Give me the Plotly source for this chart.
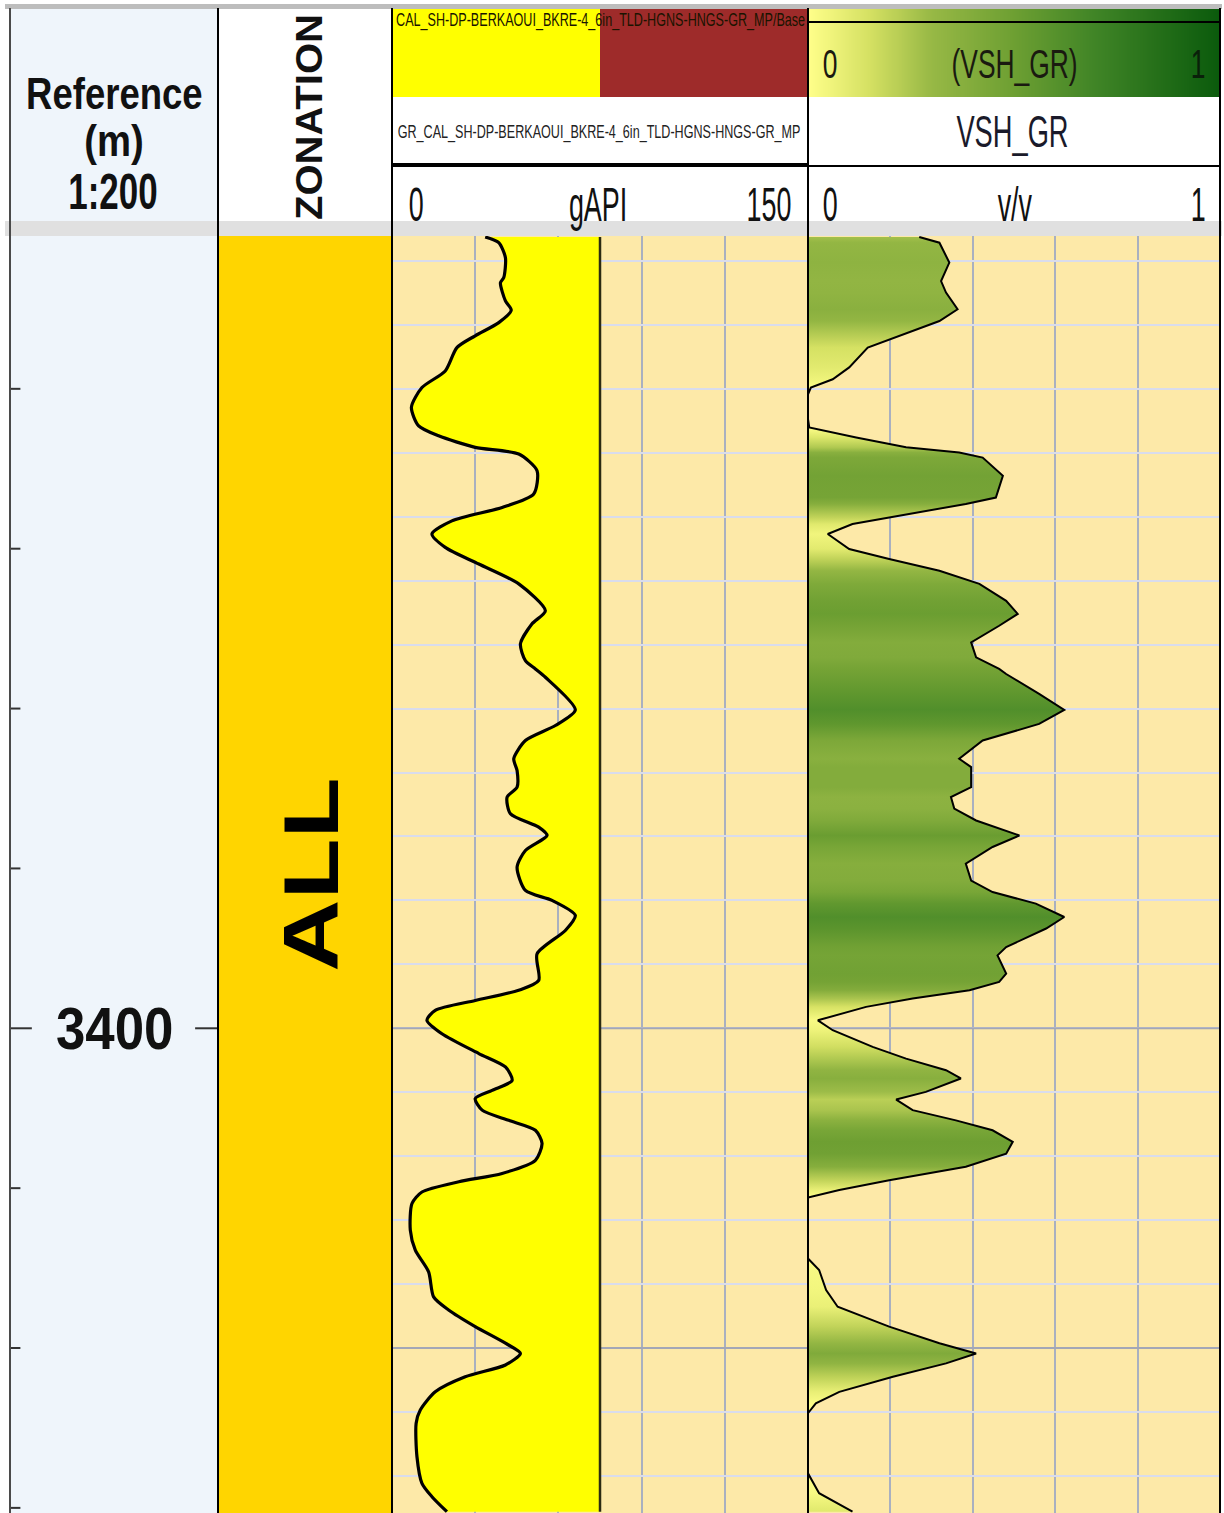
import numpy as np
import plotly.graph_objects as go
from plotly.colors import sample_colorscale

# ---------------------------------------------------------------- data
DEPTH_TOP, DEPTH_BASE = 3375.22, 3415.16          # visible interval (m)
DEPTH_TICKS = [3380, 3385, 3390, 3395, 3400, 3405, 3410, 3415]
DEPTH_LABELS = [3400]
GRID_STEP = 2.0
MAJOR_DEPTH_LINES = [3400, 3410]

ZONE_NAMES = ["ALL"]
ZONE_TOPS = [3370.0]
ZONE_BASES = [3420.0]

GR_MIN, GR_MAX = 0, 150
GR_BASELINE = 75
DEPTH_GR = [3375.25, 3375.43, 3375.90, 3376.52, 3376.68, 3377.25, 3377.54, 3377.93,
            3378.34, 3378.71, 3379.44, 3379.96, 3380.58, 3381.16, 3381.47, 3381.83,
            3382.04, 3382.56, 3383.29, 3383.71, 3384.13, 3384.54, 3384.96, 3385.48,
            3386.10, 3386.94, 3387.35, 3387.98, 3388.50, 3388.76, 3389.02, 3390.04,
            3390.53, 3391.00, 3391.57, 3391.94, 3392.46, 3392.77, 3393.29, 3393.71,
            3393.97, 3394.44, 3394.96, 3395.69, 3396.00, 3396.47, 3396.94, 3397.67,
            3398.50, 3398.81, 3399.13, 3399.44, 3399.75, 3400.17, 3400.79, 3401.21,
            3401.63, 3401.94, 3402.20, 3402.56, 3402.88, 3403.19, 3403.60, 3404.13,
            3404.54, 3404.80, 3405.12, 3405.48, 3406.31, 3406.94, 3407.62, 3408.40,
            3408.81, 3409.33, 3409.85, 3410.17, 3410.53, 3410.90, 3411.37, 3411.94,
            3412.35, 3413.40, 3414.23, 3414.65, 3415.12]
GR = [33.6, 38.5, 40.9, 40.3, 39.1, 40.9, 43.0, 38.5,
      30.0, 23.4, 19.2, 10.8, 7.0, 9.6, 16.8, 30.0,
      45.7, 52.3, 51.1, 39.7, 21.6, 14.4, 19.2, 31.3,
      45.7, 55.3, 50.5, 46.3, 48.1, 51.7, 55.3, 66.1,
      58.9, 48.1, 43.9, 45.1, 45.1, 41.5, 42.7, 52.9,
      55.9, 48.1, 45.1, 48.1, 57.7, 66.1, 62.5, 52.3,
      52.9, 45.7, 30.0, 15.6, 12.6, 18.0, 31.3, 40.9,
      43.3, 36.1, 30.0, 32.5, 42.1, 51.7, 54.1, 51.7,
      39.7, 24.1, 10.8, 7.2, 6.6, 8.4, 13.2, 15.0,
      20.4, 30.0, 40.9, 46.3, 40.9, 26.4, 15.6, 10.2,
      8.7, 9.0, 10.8, 14.4, 19.8]

VSH_MIN, VSH_MAX = 0, 1
DEPTH_VSH = [3375.25, 3375.43, 3376.05, 3376.63, 3376.99, 3377.51, 3377.88, 3378.45,
             3378.71, 3379.33, 3379.70, 3379.96, 3380.17, 3380.95, 3381.21, 3381.52,
             3381.83, 3381.99, 3382.15, 3382.72, 3383.40, 3383.60, 3384.02, 3384.23,
             3384.54, 3385.01, 3385.32, 3385.69, 3386.10, 3386.63, 3387.04, 3387.41,
             3387.93, 3388.40, 3388.76, 3388.92, 3389.54, 3390.04, 3390.48, 3391.00,
             3391.57, 3391.83, 3392.46, 3392.77, 3393.13, 3393.50, 3393.97, 3394.33,
             3394.85, 3395.38, 3395.74, 3396.10, 3396.52, 3396.88, 3397.46, 3397.72,
             3398.29, 3398.55, 3398.81, 3399.07, 3399.33, 3399.75, 3400.06, 3400.58,
             3400.95, 3401.31, 3401.57, 3401.99, 3402.23, 3402.56, 3402.88, 3403.19,
             3403.55, 3403.92, 3404.33, 3404.75, 3405.06, 3405.29, 3407.20, 3407.56,
             3408.19, 3408.71, 3409.33, 3409.85, 3410.17, 3410.48, 3410.90, 3411.37,
             3411.73, 3412.04, 3413.92, 3414.54, 3415.12]
VSH = [0.270, 0.319, 0.343, 0.323, 0.335, 0.363, 0.319, 0.197,
       0.145, 0.100, 0.060, 0.007, 0.0, 0.0, 0.003, 0.117,
       0.238, 0.367, 0.424, 0.473, 0.456, 0.383, 0.197, 0.108,
       0.048, 0.100, 0.197, 0.319, 0.416, 0.481, 0.509, 0.464,
       0.396, 0.408, 0.464, 0.481, 0.561, 0.622, 0.561, 0.424,
       0.367, 0.396, 0.396, 0.347, 0.355, 0.408, 0.513, 0.448,
       0.383, 0.396, 0.448, 0.553, 0.622, 0.578, 0.481, 0.460,
       0.481, 0.464, 0.392, 0.254, 0.141, 0.024, 0.060, 0.157,
       0.238, 0.335, 0.371, 0.286, 0.214, 0.254, 0.359, 0.448,
       0.497, 0.481, 0.383, 0.197, 0.076, 0.0, 0.0, 0.027,
       0.044, 0.072, 0.197, 0.319, 0.408, 0.335, 0.206, 0.076,
       0.019, 0.0, 0.0, 0.027, 0.108]

GR_CURVE_NAME = "GR_CAL_SH-DP-BERKAOUI_BKRE-4_6in_TLD-HGNS-HNGS-GR_MP"
GR_FILL_NAME = "CAL_SH-DP-BERKAOUI_BKRE-4_6in_TLD-HGNS-HNGS-GR_MP/Base"
GR_UNIT = "gAPI"
VSH_NAME = "VSH_GR"
VSH_UNIT = "v/v"

# ---------------------------------------------------------------- styling
W, H = 1224, 1513
FONT = "Liberation Sans, Arial, sans-serif"
VSH_SCALE = [[0.0, "#ffff8a"], [0.15, "#d4e062"], [0.3, "#97b845"],
             [0.5, "#6d9f32"], [0.7, "#3f8426"], [1.0, "#0a5a0c"]]
TRACK_BG = "#fde9a8"
DEPTH_BG = "#eff5fb"
ZONE_COLOR = "#ffd500"
V_GRID = "#a9b0c0"
H_GRID = "#d9dcec"

# track edges in pixels
XD0, XD1 = 10, 218
XZ0, XZ1 = 218, 392
XG0, XG1 = 392, 808
XV0, XV1 = 808, 1220
Y_HEAD = 8
Y_BODY = 236


def px(x):
    return x / W


def py(y):
    return 1 - y / H


# ---------------------------------------------------------------- traces
fig = go.Figure()

# zonation
for name, top, base in zip(ZONE_NAMES, ZONE_TOPS, ZONE_BASES):
    fig.add_trace(go.Bar(x=[1], y=[(top + base) / 2], width=[base - top], base=0,
                         orientation="h", marker=dict(color=ZONE_COLOR, line=dict(width=0)),
                         xaxis="x2", yaxis="y2", hoverinfo="skip"))

# gamma ray with sand fill towards the baseline
baseline = [GR_BASELINE] * len(DEPTH_GR)
fig.add_trace(go.Scatter(x=baseline, y=DEPTH_GR, mode="lines", line=dict(width=0),
                         xaxis="x3", yaxis="y3", hoverinfo="skip"))
fig.add_trace(go.Scatter(x=GR, y=DEPTH_GR, mode="lines", fill="tonextx", fillcolor="#ffff00",
                         line=dict(color="black", width=3.2, shape="spline", smoothing=0.7),
                         xaxis="x3", yaxis="y3"))
fig.add_trace(go.Scatter(x=baseline, y=DEPTH_GR, mode="lines",
                         line=dict(color="#2b2b12", width=2.5),
                         xaxis="x3", yaxis="y3", hoverinfo="skip"))

# shale volume, filled with a colour that follows the value at each depth
d0, d1 = DEPTH_VSH[0], DEPTH_VSH[-1]
stop_colors = sample_colorscale(VSH_SCALE, [min(max(v, 0), 1) for v in VSH])
grad = [[round((d - d0) / (d1 - d0), 5), c] for d, c in zip(DEPTH_VSH, stop_colors)]
grad[0][0], grad[-1][0] = 0.0, 1.0
fig.add_trace(go.Scatter(x=VSH, y=DEPTH_VSH, mode="lines", fill="tozerox",
                         fillgradient=dict(type="vertical", colorscale=grad, start=d0, stop=d1),
                         line=dict(color="black", width=2),
                         xaxis="x4", yaxis="y4"))

# colour ramp in the VSH header
ramp = np.linspace(VSH_MIN, VSH_MAX, 201)
fig.add_trace(go.Heatmap(z=[ramp], x=ramp, y=[0], colorscale=VSH_SCALE, zmin=VSH_MIN,
                         zmax=VSH_MAX, zsmooth="best", showscale=False,
                         xaxis="x5", yaxis="y5", hoverinfo="skip"))

# ---------------------------------------------------------------- axes
body_domain = [0, py(Y_BODY)]
depth_range = [DEPTH_BASE, DEPTH_TOP]
hidden = dict(showticklabels=False, ticks="", zeroline=False, showline=False)

layout_axes = dict(
    xaxis=dict(domain=[px(XD0), px(XD1)], range=[0, 1], showgrid=False, anchor="y", **hidden),
    yaxis=dict(domain=body_domain, range=depth_range, showgrid=False, anchor="x", **hidden),
    xaxis2=dict(domain=[px(XZ0), px(XZ1)], range=[0, 1], showgrid=False, anchor="y2", **hidden),
    yaxis2=dict(domain=body_domain, range=depth_range, showgrid=False, anchor="x2", **hidden),
    xaxis3=dict(domain=[px(XG0), px(XG1)], range=[GR_MIN, GR_MAX], dtick=30, showgrid=True,
                gridcolor=V_GRID, gridwidth=1.5, anchor="y3", **hidden),
    yaxis3=dict(domain=body_domain, range=depth_range, dtick=GRID_STEP, tick0=3400,
                showgrid=True, gridcolor=H_GRID, gridwidth=2, anchor="x3", **hidden),
    xaxis4=dict(domain=[px(XV0), px(XV1)], range=[VSH_MIN, VSH_MAX], dtick=0.2, showgrid=True,
                gridcolor=V_GRID, gridwidth=1.5, anchor="y4", **hidden),
    yaxis4=dict(domain=body_domain, range=depth_range, dtick=GRID_STEP, tick0=3400,
                showgrid=True, gridcolor=H_GRID, gridwidth=2, anchor="x4", **hidden),
    xaxis5=dict(domain=[px(XV0), px(XV1)], range=[VSH_MIN, VSH_MAX], showgrid=False,
                anchor="y5", **hidden),
    yaxis5=dict(domain=[py(97), py(Y_HEAD)], range=[-0.5, 0.5], showgrid=False,
                anchor="x5", **hidden),
)

# ---------------------------------------------------------------- shapes
shapes = []


def rect(x0, y0, x1, y1, color, layer="below"):
    shapes.append(dict(type="rect", xref="paper", yref="paper", x0=px(x0), x1=px(x1),
                       y0=py(y1), y1=py(y0), fillcolor=color, line=dict(width=0), layer=layer))


def hline(x0, x1, y, color="black", width=2):
    shapes.append(dict(type="line", xref="paper", yref="paper", x0=px(x0), x1=px(x1),
                       y0=py(y), y1=py(y), line=dict(color=color, width=width), layer="above"))


def vline(x, y0, y1, color="black", width=2):
    shapes.append(dict(type="line", xref="paper", yref="paper", x0=px(x), x1=px(x),
                       y0=py(y1), y1=py(y0), line=dict(color=color, width=width), layer="above"))


rect(XD0, Y_HEAD, XD1, H, DEPTH_BG)
rect(XG0, Y_BODY, XV1, H, TRACK_BG)
rect(XG0, Y_HEAD, 600, 97, "#ffff00")
rect(600, Y_HEAD, XG1, 97, "#9e2b2a")

# darker reference lines under the curves
for d in MAJOR_DEPTH_LINES:
    shapes.append(dict(type="line", xref="x3", yref="y3", x0=GR_MIN, x1=GR_MAX, y0=d, y1=d,
                       line=dict(color="#a3a7b6", width=2), layer="between"))
    shapes.append(dict(type="line", xref="x4", yref="y4", x0=VSH_MIN, x1=VSH_MAX, y0=d, y1=d,
                       line=dict(color="#a3a7b6", width=2), layer="between"))

# depth ticks
for d in DEPTH_TICKS:
    long_tick = d in DEPTH_LABELS
    x_len = 0.105 if long_tick else 0.05
    shapes.append(dict(type="line", xref="x", yref="y", x0=0, x1=x_len, y0=d, y1=d,
                       line=dict(color="#333333", width=2), layer="above"))
    if long_tick:
        shapes.append(dict(type="line", xref="x", yref="y", x0=0.89, x1=1, y0=d, y1=d,
                           line=dict(color="#333333", width=2), layer="above"))

# header frame
rect(5, 4, 1222, 9, "#bdbdbd", layer="above")
rect(5, 221, 1222, Y_BODY, "#e0e0e0", layer="above")
hline(XG0, XG1, 165, width=4)
hline(XV0, XV1, 22, width=2)
hline(XV0, XV1, 166, width=2)
vline(XD0, Y_HEAD, H, color="#4a4a4a")
for xb in (XD1, XZ1, XG1, XV1):
    vline(xb, Y_HEAD, H)
vline(XG0, Y_HEAD, H)

# ---------------------------------------------------------------- text
annotations = []
squeeze = []


def label(text, x, y, size, sx=1.0, sy=1.0, bold=False, angle=0, color="#111111",
          xref="paper", yref="paper"):
    if xref == "paper":
        x = px(x)
    if yref == "paper":
        y = py(y)
    annotations.append(dict(text=text, x=x, y=y, xref=xref, yref=yref, showarrow=False,
                            xanchor="center", yanchor="middle", textangle=angle,
                            font=dict(family=FONT, size=size, color=color,
                                      weight=700 if bold else 400)))
    squeeze.append((sx, sy))


label("Reference", 114, 94, 44, sx=0.83, bold=True)
label("(m)", 114, 141, 45, sx=0.85, bold=True)
label("1:200", 113, 192, 50, sx=0.7, bold=True)
label("ZONATION", 309, 117, 40, sy=0.93, bold=True, angle=-90)

label(GR_FILL_NAME, 600, 20, 18, sx=0.7, color="#1a1400")
label(GR_CURVE_NAME, 599, 132, 18, sx=0.7, color="#222222")
label(str(GR_MIN), 416, 205, 48, sx=0.56)
label(GR_UNIT, 598, 205, 48, sx=0.56)
label(str(GR_MAX), 769, 205, 48, sx=0.56)

label(str(VSH_MIN), 830, 64, 40, sx=0.66, color="#1a1a10")
label(f"({VSH_NAME})", 1014, 64, 40, sx=0.66, color="#1a1a10")
label(str(VSH_MAX), 1198, 64, 40, sx=0.66, color="#0a200a")
label(VSH_NAME, 1013, 131, 44, sx=0.62, color="#1a1a2a")
label(str(VSH_MIN), 830, 205, 48, sx=0.56)
label(VSH_UNIT, 1014, 205, 48, sx=0.56)
label(str(VSH_MAX), 1198, 205, 48, sx=0.56)

for d in DEPTH_LABELS:
    label(str(d), 0.5, d, 60, sx=0.88, bold=True, xref="x", yref="y")

for name, top, base in zip(ZONE_NAMES, ZONE_TOPS, ZONE_BASES):
    mid = (max(top, DEPTH_TOP) + min(base, DEPTH_BASE)) / 2
    label(name, 0.53, mid, 100, sy=0.77, bold=True, angle=-90, xref="x2", yref="y2",
          color="black")

fig.update_layout(
    width=W, height=H, margin=dict(l=0, r=0, t=0, b=0),
    paper_bgcolor="white", plot_bgcolor="rgba(0,0,0,0)",
    showlegend=False, shapes=shapes, annotations=annotations,
    **layout_axes,
)

# condensed lettering: squeeze each label around its own centre
rules = []
for i, (sx, sy) in enumerate(squeeze):
    rules.append(
        f'.annotation[data-index="{i}"] text.annotation-text'
        f'{{transform-box:fill-box;transform-origin:center;transform:scale({sx},{sy});}}'
    )
css = "".join(rules)
post = (
    "var s=document.createElement('style');"
    f"s.textContent={css!r};"
    "document.head.appendChild(s);"
)

fig.write_html("out.html", post_script=post, config=dict(displayModeBar=False))
